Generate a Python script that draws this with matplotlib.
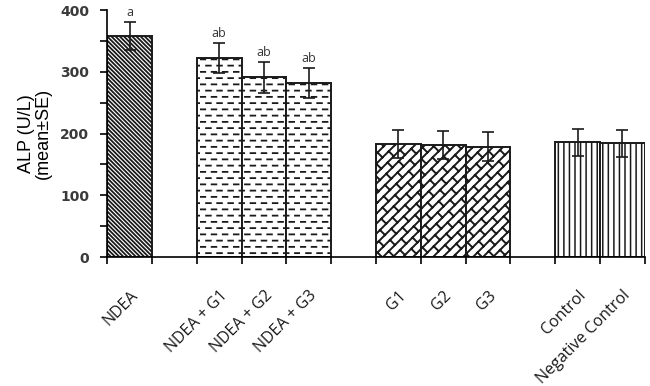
import warnings
import numpy as np
import matplotlib
matplotlib.use("Agg")
import matplotlib.pyplot as plt
import matplotlib.hatch as mhatch
from matplotlib.path import Path

# data
categories = ["NDEA", "", "NDEA + G1", "NDEA + G2", "NDEA + G3", "",
              "G1", "G2", "G3", "", "Control", "Negative Control"]
values = [358, None, 322, 291, 282, None, 183, 181, 179, None, 186, 184]
errors = [23, None, 24, 25, 24, None, 23, 23, 23, None, 22, 22]
letters = ["a", "", "ab", "ab", "ab", "", "", "", "", "", "", ""]
hatches = ["\\" * 8, "", "_", "_", "_", "", "b", "b", "b", "", "|||", "|||"]
hatch_lw = [1.3, 0, 1.3, 1.3, 1.3, 0, 1.4, 1.4, 1.4, 0, 1.1, 1.1]
hatch_col = ["#2a2a2a", "", "#555555", "#555555", "#555555", "",
             "#2a2a2a", "#2a2a2a", "#2a2a2a", "", "#444444", "#444444"]


# short dashes in staggered rows
class DashHatch(mhatch.HatchPatternBase):
    def __init__(self, hatch, density):
        self.rows = 16 if "_" in hatch else 0
        self.cols = 9
        self.num_vertices = self.rows * self.cols * 2

    def set_vertices_and_codes(self, vertices, codes):
        k = 0
        for r in range(self.rows):
            y = (r + 0.5) / self.rows
            off = 0.5 if r % 2 else 0.0
            for c in range(self.cols):
                x0 = (c + 0.05 + off) / self.cols
                vertices[k] = (x0, y)
                vertices[k + 1] = (x0 + 0.42 / self.cols, y)
                codes[k] = Path.MOVETO
                codes[k + 1] = Path.LINETO
                k += 2


# diagonal brick pattern: "/" lines with staggered "\" joints
class BrickHatch(mhatch.HatchPatternBase):
    n = 10
    m = 4

    def __init__(self, hatch, density):
        self.on = "b" in hatch
        n, m = self.n, self.m
        self.num_vertices = ((2 * n + 1) * 2 + 2 * n * (2 * m + 3) * 2) if self.on else 0

    def set_vertices_and_codes(self, vertices, codes):
        n, m = self.n, self.m
        k = 0
        for i in range(-n, n + 1):
            c = i / n
            vertices[k] = (-1, -1 + c)
            vertices[k + 1] = (2, 2 + c)
            codes[k] = Path.MOVETO
            codes[k + 1] = Path.LINETO
            k += 2
        for i in range(-n, n):
            c0, c1 = i / n, (i + 1) / n
            off = 0.5 if i % 2 else 0.0
            for j in range(-1, 2 * m + 2):
                d = (j + off) / m
                vertices[k] = ((d - c0) / 2, (d + c0) / 2)
                vertices[k + 1] = ((d - c1) / 2, (d + c1) / 2)
                codes[k] = Path.MOVETO
                codes[k + 1] = Path.LINETO
                k += 2


mhatch._hatch_types.append(DashHatch)
mhatch._hatch_types.append(BrickHatch)
warnings.filterwarnings("ignore")

fig = plt.figure(figsize=(6.5, 3.86), dpi=100)
ax = fig.add_axes([0.165, 0.334, 0.827, 0.64])

x = np.arange(len(categories))
for i, v in enumerate(values):
    if v is None:
        continue
    with plt.rc_context({"hatch.linewidth": hatch_lw[i], "hatch.color": hatch_col[i]}):
        ax.bar(x[i], v, width=1.0, color="white", edgecolor="#1a1a1a",
               linewidth=1.4, hatch=hatches[i], zorder=2)
    ax.errorbar(x[i], v, yerr=errors[i], fmt="none", ecolor="#1a1a1a",
                elinewidth=1.2, capsize=4, capthick=1.2, zorder=3)
    if letters[i]:
        ax.text(x[i], v + errors[i] + 5, letters[i], ha="center", va="bottom",
                fontsize=9, color="#333333", family="Open Sans")

ax.set_xlim(-0.5, len(categories) - 0.5)
ax.set_ylim(0, 400)
ax.set_yticks([0, 100, 200, 300, 400])
ax.set_yticks(np.arange(0, 401, 50), minor=True)
ax.tick_params(axis="y", which="both", direction="out", length=5, width=1.2,
               labelsize=10, labelcolor="#3a3a3a", pad=8)
for lab in ax.get_yticklabels():
    lab.set_fontweight("bold")

ax.set_xticks(x)
ax.set_xticklabels(categories, rotation=45, ha="right", rotation_mode="anchor",
                   fontsize=11.5, color="#1a1a1a", family="Open Sans")
ax.set_xticks(np.arange(-0.5, len(categories)), minor=True)
ax.tick_params(axis="x", which="major", length=0, pad=22)
ax.tick_params(axis="x", which="minor", direction="out", length=5, width=1.2)

ax.spines["top"].set_visible(False)
ax.spines["right"].set_visible(False)
ax.spines["left"].set_linewidth(1.2)
ax.spines["bottom"].set_linewidth(1.2)

ax.set_ylabel("ALP (U/L)\n(mean±SE)", fontsize=13, family="Liberation Sans",
              labelpad=6, linespacing=1.0)

fig.savefig("out.png", dpi=100)
